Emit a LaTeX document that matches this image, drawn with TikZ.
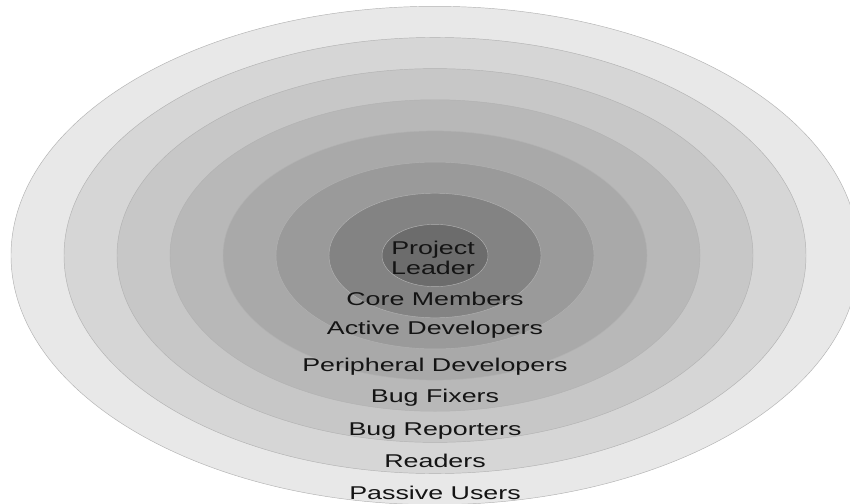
\documentclass[tikz,border=0pt]{standalone}
\usepackage{fontspec}
\setmainfont{Liberation Sans}
\usepackage{graphicx}
\newcommand\widetxt[1]{\scalebox{1.45}[1]{#1}}
\tikzset{
  ring/.style={draw=black!30, line width=0.45pt},
  lbl/.style={font=\fontsize{18.5}{20}\selectfont, text=black!92, inner sep=0pt, align=center}
}
\begin{document}
\begin{tikzpicture}[x=1pt,y=-1pt]
\clip (0,0) rectangle (850,503);
\fill[white] (0,0) rectangle (850,503);
\def\cx{435}\def\cy{255.5}
\foreach \k/\col in {8/E8E8E8,7/D6D6D6,6/C7C7C7,5/B8B8B8,4/A9A9A9,3/9A9A9A,2/838383,1/6C6C6C}{
  \definecolor{ringcol}{HTML}{\col}
  \path[ring, fill=ringcol] (\cx,\cy) ellipse [x radius=53*\k pt, y radius=31.15*\k pt];
}
\node[lbl] (leader) at (433,258) {\widetxt{Project}\\\widetxt{Leader}};
\node[lbl] (core) at (435,299) {\widetxt{Core Members}};
\node[lbl] (active) at (435,330) {\widetxt{Active Developers}};
\node[lbl] (periph) at (435,367) {\widetxt{Peripheral Developers}};
\node[lbl] (fixers) at (435,398) {\widetxt{Bug Fixers}};
\node[lbl] (reporters) at (435,431) {\widetxt{Bug Reporters}};
\node[lbl] (readers) at (435,461) {\widetxt{Readers}};
\node[lbl] (passive) at (435,493) {\widetxt{Passive Users}};
\end{tikzpicture}
\end{document}
